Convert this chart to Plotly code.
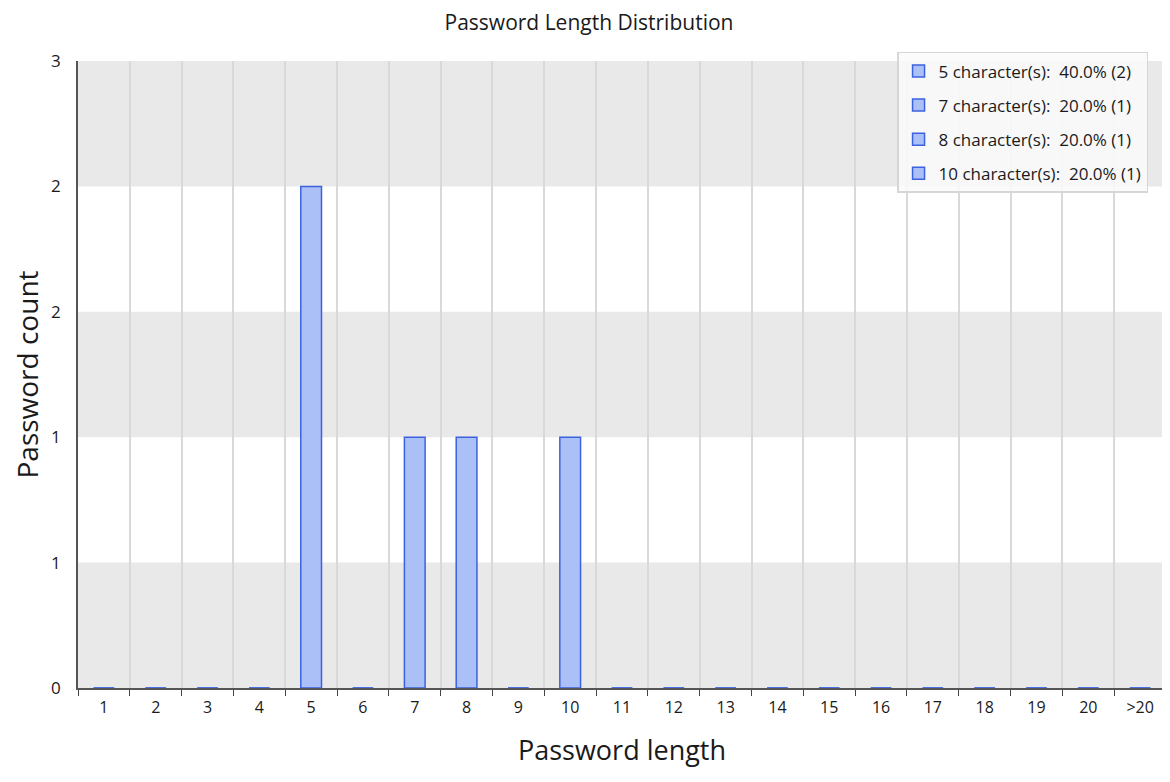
import plotly.graph_objects as go

categories = [str(i) for i in range(1, 21)] + [">20"]
counts = [0, 0, 0, 0, 2, 0, 1, 1, 0, 1, 0, 0, 0, 0, 0, 0, 0, 0, 0, 0, 0]
y_tickvals = [0, 0.5, 1, 1.5, 2, 2.5]
y_ticktext = ["0", "1", "1", "2", "2", "3"]

total = sum(counts)
fill = "#abc0f6"
edge = "#3d62e0"

fig = go.Figure()

# zero-count bars (no legend)
fig.add_trace(go.Bar(
    x=[c for c, v in zip(categories, counts) if v == 0],
    y=[v for v in counts if v == 0],
    width=0.4, marker=dict(color=fill, line=dict(color="#4a6fe6", width=2)),
    showlegend=False, hoverinfo="skip"))

for c, v in zip(categories, counts):
    if v > 0:
        fig.add_trace(go.Bar(
            x=[c], y=[v], width=0.4, legendgroup=f"g{c}",
            name=f"{c} character(s):&nbsp;&nbsp;{100*v/total:.1f}% ({v})",
            marker=dict(color=fill, line=dict(color=edge, width=1.5))))

shapes = []
for lo in [0, 1, 2]:
    shapes.append(dict(type="rect", xref="paper", yref="y", x0=0, x1=1,
                       y0=lo, y1=lo + 0.5, fillcolor="#e9e9e9",
                       line=dict(width=0), layer="below"))

fig.update_layout(
    width=1162, height=774,
    margin=dict(l=70, r=4, t=53, b=94),
    paper_bgcolor="white", plot_bgcolor="white",
    font=dict(family="Open Sans", color="#1a1a1a"),
    title=dict(text="Password Length Distribution", x=0.5, xanchor="center",
               y=0.981, yanchor="middle", font=dict(size=21, color="#1a1a1a")),
    barmode="overlay",
    shapes=shapes,
    xaxis=dict(type="category", categoryorder="array", categoryarray=categories,
               tickson="boundaries", ticks="outside", ticklen=6, tickcolor="#444",
               showline=True, linecolor="#555", linewidth=1.5, layer="below traces",
               showgrid=True, gridcolor="#d9d9d9", gridwidth=1.5,
               tickfont=dict(size=16), ticklabelstandoff=4, automargin=False,
               title=dict(text="Password length", font=dict(size=27), standoff=24)),
    yaxis=dict(range=[0, 2.5], tickvals=y_tickvals, ticktext=y_ticktext,
               showline=True, linecolor="#555", linewidth=1.5,
               showgrid=False, zeroline=False, ticks="", automargin=False,
               tickfont=dict(size=17), ticklabelstandoff=12,
               title=dict(text="Password count", font=dict(size=28), standoff=14)),
    legend=dict(x=0.7528, y=1.0144, xanchor="left", yanchor="top",
                bgcolor="rgba(250,250,250,0.85)", bordercolor="#d6d6d6", borderwidth=1.5,
                font=dict(size=17), tracegroupgap=9, itemwidth=30,
                entrywidth=255, entrywidthmode="pixels"),
)

fig.write_html("out.html")
